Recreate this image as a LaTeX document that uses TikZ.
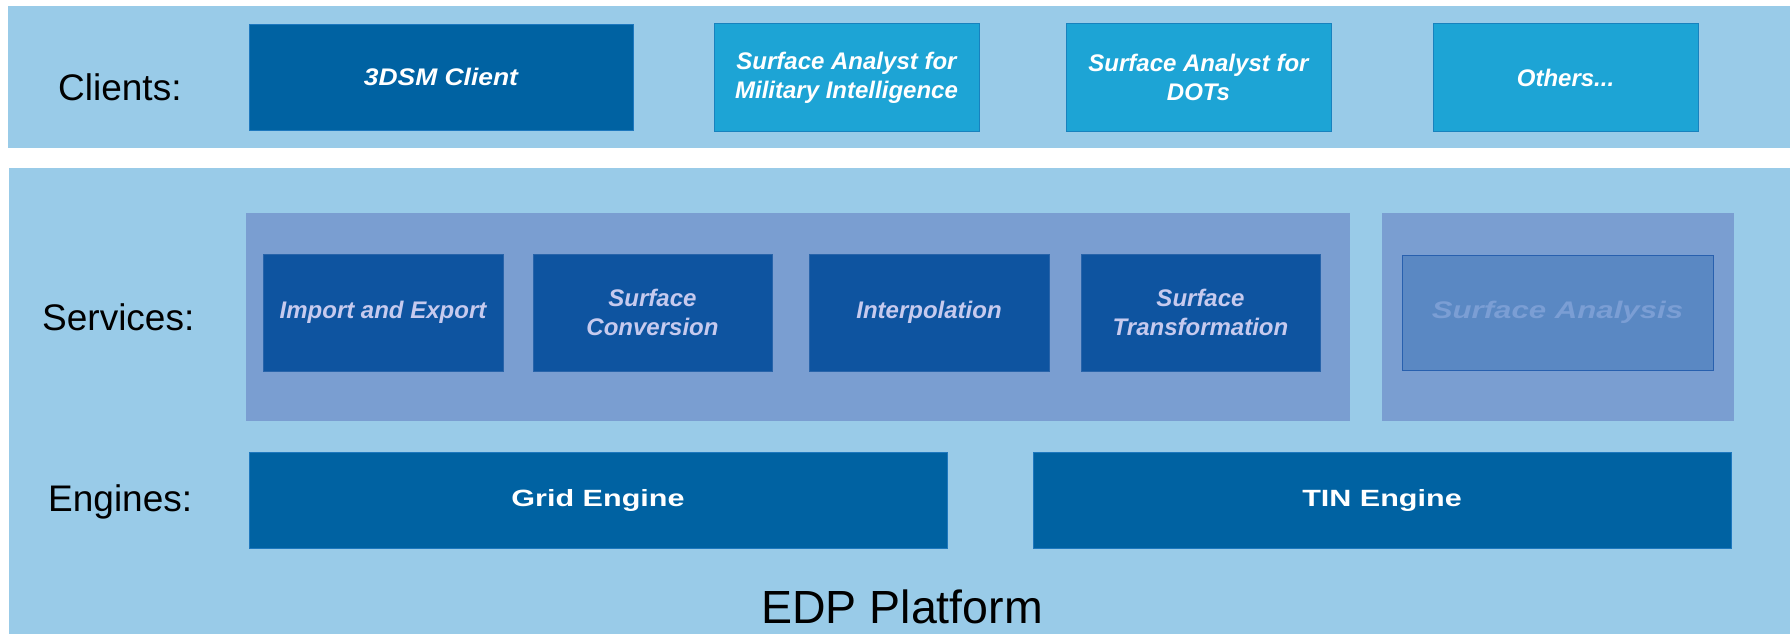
\documentclass[tikz,border=0pt]{standalone}
\usepackage{fontspec}
\setmainfont{Liberation Sans}
\newfontfamily\wideA{Liberation Sans}[FakeStretch=1.1]
\newfontfamily\wideB{Liberation Sans}[FakeStretch=1.3]
\definecolor{band}{RGB}{153,203,232}
\definecolor{darkbox}{RGB}{0,98,162}
\definecolor{darkedge}{RGB}{30,120,190}
\definecolor{clientbox}{RGB}{29,164,213}
\definecolor{clientedge}{RGB}{24,130,190}
\definecolor{panel}{RGB}{122,158,209}
\definecolor{servbox}{RGB}{14,84,160}
\definecolor{servedge}{RGB}{40,100,170}
\definecolor{servtext}{RGB}{198,202,238}
\definecolor{anabox}{RGB}{90,136,195}
\definecolor{anaedge}{RGB}{40,96,174}
\definecolor{anatext}{RGB}{123,158,212}
\tikzset{
  blk/.style={anchor=north west, inner sep=0pt, outer sep=0pt, align=center},
  bandbox/.style={blk, fill=band},
  panelbox/.style={blk, fill=panel},
  darkbx/.style={blk, fill=darkbox, draw=darkedge, line width=0.6pt, text=white},
  clientbx/.style={blk, fill=clientbox, draw=clientedge, line width=1pt, text=white,
    font=\fontsize{24}{29}\selectfont\bfseries\itshape},
  servbx/.style={blk, fill=servbox, draw=servedge, line width=0.8pt, text=servtext,
    font=\fontsize{24}{29}\selectfont\bfseries\itshape},
  anabx/.style={blk, fill=anabox, draw=anaedge, line width=1pt, text=anatext,
    font=\wideB\fontsize{24}{29}\selectfont\bfseries\itshape},
  engbx/.style={darkbx, font=\wideB\fontsize{23.5}{28}\selectfont\bfseries},
  rowlabel/.style={anchor=base west, inner sep=0pt, font=\fontsize{37}{44}\selectfont},
}
\begin{document}
\begin{tikzpicture}[x=1pt,y=-1pt]
\useasboundingbox (0,0) rectangle (1790,634);
\fill[white] (0,0) rectangle (1790,634);
% bands
\node[bandbox, minimum width=1782pt, minimum height=142pt] (topband) at (8,6) {};
\node[bandbox, minimum width=1781pt, minimum height=466pt] (botband) at (9,168) {};
% clients
\node[rowlabel] (lclients) at (58,100) {Clients:};
\node[darkbx, minimum width=384pt, minimum height=106pt,
  font=\wideA\fontsize{24}{29}\selectfont\bfseries\itshape] (c3dsm) at (249,24) {3DSM Client};
\node[clientbx, minimum width=265pt, minimum height=107pt] (cmil) at (714,24)
  {Surface Analyst for\\Military Intelligence};
\node[clientbx, minimum width=265pt, minimum height=107pt] (cdot) at (1066,24)
  {Surface Analyst for\\DOTs};
\node[clientbx, minimum width=265pt, minimum height=107pt] (coth) at (1433,24)
  {Others...};
% services
\node[rowlabel] (lservices) at (42,330) {Services:};
\node[panelbox, minimum width=1104pt, minimum height=208pt] (spanel) at (246,213) {};
\node[panelbox, minimum width=352pt, minimum height=208pt] (apanel) at (1382,213) {};
\node[servbx, minimum width=240pt, minimum height=117pt] (simp) at (263,254) {Import and Export};
\node[servbx, minimum width=239pt, minimum height=117pt] (sconv) at (533,254) {Surface\\Conversion};
\node[servbx, minimum width=240pt, minimum height=117pt] (sint) at (809,254) {Interpolation};
\node[servbx, minimum width=239pt, minimum height=117pt] (strans) at (1081,254) {Surface\\Transformation};
\node[anabx, minimum width=311pt, minimum height=115pt] (sana) at (1402,255) {Surface Analysis};
% engines
\node[rowlabel] (lengines) at (48,511) {Engines:};
\node[engbx, minimum width=698pt, minimum height=96pt] (egrid) at (249,452) {Grid Engine};
\node[engbx, minimum width=698pt, minimum height=96pt] (etin) at (1033,452) {TIN Engine};
% platform
\node[anchor=base, inner sep=0pt, font=\fontsize{46.5}{54}\selectfont] (edp) at (902,623) {EDP Platform};
\end{tikzpicture}
\end{document}
